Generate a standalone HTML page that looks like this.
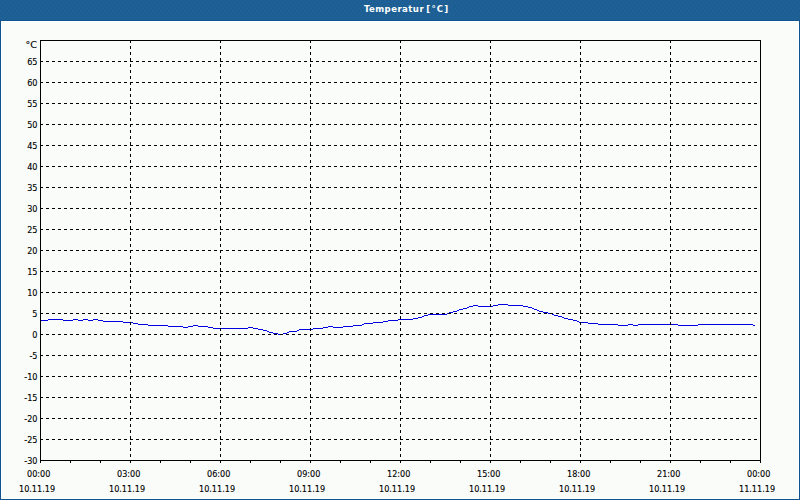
<!DOCTYPE html>
<html><head><meta charset="utf-8"><title>Temperatur</title>
<style>
html,body{margin:0;padding:0;width:800px;height:500px;overflow:hidden;background:#fafcfa}
svg{display:block}
.t{font-family:"DejaVu Sans Condensed","DejaVu Sans",sans-serif;font-size:9px;fill:#000;stroke:#000;stroke-width:0.12px}
.ttl{font-family:"DejaVu Sans Condensed","DejaVu Sans",sans-serif;font-size:9.5px;font-weight:bold;letter-spacing:0.55px;fill:#fff}
</style></head><body>
<svg width="800" height="500" viewBox="0 0 800 500">
<rect x="0" y="0" width="800" height="500" fill="#0f548e" shape-rendering="crispEdges"/>
<defs><pattern id="dz" x="0" y="0" width="8" height="20" patternUnits="userSpaceOnUse"><rect width="8" height="20" fill="#1d5f91"/><path d="M0 0h1v1h-1zM4 1h1v1h-1zM7 2h1v1h-1zM2 2h1v1h-1zM3 4h1v1h-1zM5 5h1v1h-1zM0 5h1v1h-1zM3 7h1v1h-1zM7 8h1v1h-1zM1 9h1v1h-1zM5 9h1v1h-1zM0 11h1v1h-1zM4 11h1v1h-1zM2 13h1v1h-1zM6 13h1v1h-1zM1 15h1v1h-1zM5 15h1v1h-1zM0 17h1v1h-1zM4 17h1v1h-1zM2 19h1v1h-1zM6 19h1v1h-1z" fill="#2462b0"/></pattern></defs>
<rect x="0" y="0" width="800" height="20" fill="url(#dz)" shape-rendering="crispEdges"/>
<rect x="1" y="21" width="798" height="478" fill="#ffffff" shape-rendering="crispEdges"/>
<rect x="2" y="22" width="796" height="476" fill="#fafcfa" shape-rendering="crispEdges"/>
<text class="ttl" x="364" y="12"><tspan style="letter-spacing:0.45px">Temperatur </tspan><tspan x="426.3" style="letter-spacing:1.2px">[°C]</tspan></text>
<path d="M41 320h7v1h-7zM48 319h15v1h-15zM63 320h10v1h-10zM73 319h5v1h-5zM78 320h5v1h-5zM83 319h5v1h-5zM88 320h5v1h-5zM93 319h5v1h-5zM98 320h5v1h-5zM103 321h20v1h-20zM123 322h10v1h-10zM133 323h5v1h-5zM138 324h10v1h-10zM148 325h20v1h-20zM168 326h15v1h-15zM183 327h5v1h-5zM188 326h5v1h-5zM193 325h5v1h-5zM198 326h10v1h-10zM208 327h5v1h-5zM213 328h35v1h-35zM248 327h5v1h-5zM253 328h5v1h-5zM258 329h5v1h-5zM263 330h4v1h-4zM267 331h2v1h-2zM269 332h4v1h-4zM273 333h5v1h-5zM278 334h5v1h-5zM283 333h4v1h-4zM287 332h2v1h-2zM289 331h8v1h-8zM297 330h2v1h-2zM299 329h14v1h-14zM313 328h10v1h-10zM323 327h5v1h-5zM328 326h5v1h-5zM333 327h10v1h-10zM343 326h10v1h-10zM353 325h9v1h-9zM362 324h2v1h-2zM364 323h9v1h-9zM373 322h10v1h-10zM383 321h5v1h-5zM388 320h10v1h-10zM398 319h15v1h-15zM413 318h5v1h-5zM418 317h4v1h-4zM422 316h2v1h-2zM424 315h4v1h-4zM428 314h19v1h-19zM447 313h2v1h-2zM449 312h4v1h-4zM453 311h4v1h-4zM457 310h2v1h-2zM459 309h4v1h-4zM463 308h4v1h-4zM467 307h2v1h-2zM469 306h4v1h-4zM473 305h5v1h-5zM478 306h15v1h-15zM493 305h5v1h-5zM498 304h10v1h-10zM508 305h15v1h-15zM523 306h5v1h-5zM528 307h4v1h-4zM532 308h2v1h-2zM534 309h3v1h-3zM537 310h2v1h-2zM539 311h4v1h-4zM543 312h5v1h-5zM548 313h4v1h-4zM552 314h2v1h-2zM554 315h4v1h-4zM558 316h4v1h-4zM562 317h2v1h-2zM564 318h4v1h-4zM568 319h5v1h-5zM573 320h4v1h-4zM577 321h2v1h-2zM579 322h9v1h-9zM588 323h10v1h-10zM598 324h20v1h-20zM618 325h10v1h-10zM628 324h5v1h-5zM633 325h5v1h-5zM638 324h40v1h-40zM678 325h20v1h-20zM698 324h55v1h-55zM753 325h2v1h-2z" fill="#0000e0" shape-rendering="crispEdges"/>
<g stroke="#000" stroke-width="1" stroke-dasharray="3 3" shape-rendering="crispEdges">
<line x1="40" y1="439.5" x2="760" y2="439.5"/>
<line x1="40" y1="418.5" x2="760" y2="418.5"/>
<line x1="40" y1="397.5" x2="760" y2="397.5"/>
<line x1="40" y1="376.5" x2="760" y2="376.5"/>
<line x1="40" y1="355.5" x2="760" y2="355.5"/>
<line x1="40" y1="334.5" x2="760" y2="334.5"/>
<line x1="40" y1="313.5" x2="760" y2="313.5"/>
<line x1="40" y1="292.5" x2="760" y2="292.5"/>
<line x1="40" y1="271.5" x2="760" y2="271.5"/>
<line x1="40" y1="250.5" x2="760" y2="250.5"/>
<line x1="40" y1="229.5" x2="760" y2="229.5"/>
<line x1="40" y1="208.5" x2="760" y2="208.5"/>
<line x1="40" y1="187.5" x2="760" y2="187.5"/>
<line x1="40" y1="166.5" x2="760" y2="166.5"/>
<line x1="40" y1="145.5" x2="760" y2="145.5"/>
<line x1="40" y1="124.5" x2="760" y2="124.5"/>
<line x1="40" y1="103.5" x2="760" y2="103.5"/>
<line x1="40" y1="82.5" x2="760" y2="82.5"/>
<line x1="40" y1="61.5" x2="760" y2="61.5"/>
<line x1="130.5" y1="40" x2="130.5" y2="460"/>
<line x1="220.5" y1="40" x2="220.5" y2="460"/>
<line x1="310.5" y1="40" x2="310.5" y2="460"/>
<line x1="400.5" y1="40" x2="400.5" y2="460"/>
<line x1="490.5" y1="40" x2="490.5" y2="460"/>
<line x1="580.5" y1="40" x2="580.5" y2="460"/>
<line x1="670.5" y1="40" x2="670.5" y2="460"/>
</g>
<g fill="#000" shape-rendering="crispEdges">
<path d="M40 40h721v1h-721zM40 460h721v1h-721zM40 40h1v423h-1zM760 40h1v423h-1zM40 461h1v2h-1zM70 461h1v2h-1zM100 461h1v2h-1zM130 461h1v2h-1zM160 461h1v2h-1zM190 461h1v2h-1zM220 461h1v2h-1zM250 461h1v2h-1zM280 461h1v2h-1zM310 461h1v2h-1zM340 461h1v2h-1zM370 461h1v2h-1zM400 461h1v2h-1zM430 461h1v2h-1zM460 461h1v2h-1zM490 461h1v2h-1zM520 461h1v2h-1zM550 461h1v2h-1zM580 461h1v2h-1zM610 461h1v2h-1zM640 461h1v2h-1zM670 461h1v2h-1zM700 461h1v2h-1zM730 461h1v2h-1zM760 461h1v2h-1z"/>
</g>
<g class="t" text-anchor="end">
<text x="25.6" y="48" text-anchor="start" textLength="11.4" lengthAdjust="spacingAndGlyphs">°C</text>
<text x="37.5" y="65">65</text>
<text x="37.5" y="86">60</text>
<text x="37.5" y="107">55</text>
<text x="37.5" y="128">50</text>
<text x="37.5" y="149">45</text>
<text x="37.5" y="170">40</text>
<text x="37.5" y="191">35</text>
<text x="37.5" y="212">30</text>
<text x="37.5" y="233">25</text>
<text x="37.5" y="254">20</text>
<text x="37.5" y="275">15</text>
<text x="37.5" y="296">10</text>
<text x="37.5" y="317">5</text>
<text x="37.5" y="338">0</text>
<text x="37.5" y="359">-5</text>
<text x="37.5" y="380">-10</text>
<text x="37.5" y="401">-15</text>
<text x="37.5" y="422">-20</text>
<text x="37.5" y="443">-25</text>
<text x="37.5" y="464">-30</text>
</g>
<g class="t">
<text x="27" y="477">00:00</text><text x="19" y="492">10.11.19</text>
<text x="117" y="477">03:00</text><text x="109" y="492">10.11.19</text>
<text x="207" y="477">06:00</text><text x="199" y="492">10.11.19</text>
<text x="297" y="477">09:00</text><text x="289" y="492">10.11.19</text>
<text x="387" y="477">12:00</text><text x="379" y="492">10.11.19</text>
<text x="477" y="477">15:00</text><text x="469" y="492">10.11.19</text>
<text x="567" y="477">18:00</text><text x="559" y="492">10.11.19</text>
<text x="657" y="477">21:00</text><text x="649" y="492">10.11.19</text>
<text x="747" y="477">00:00</text><text x="739" y="492">11.11.19</text>
</g>
</svg>
</body></html>
